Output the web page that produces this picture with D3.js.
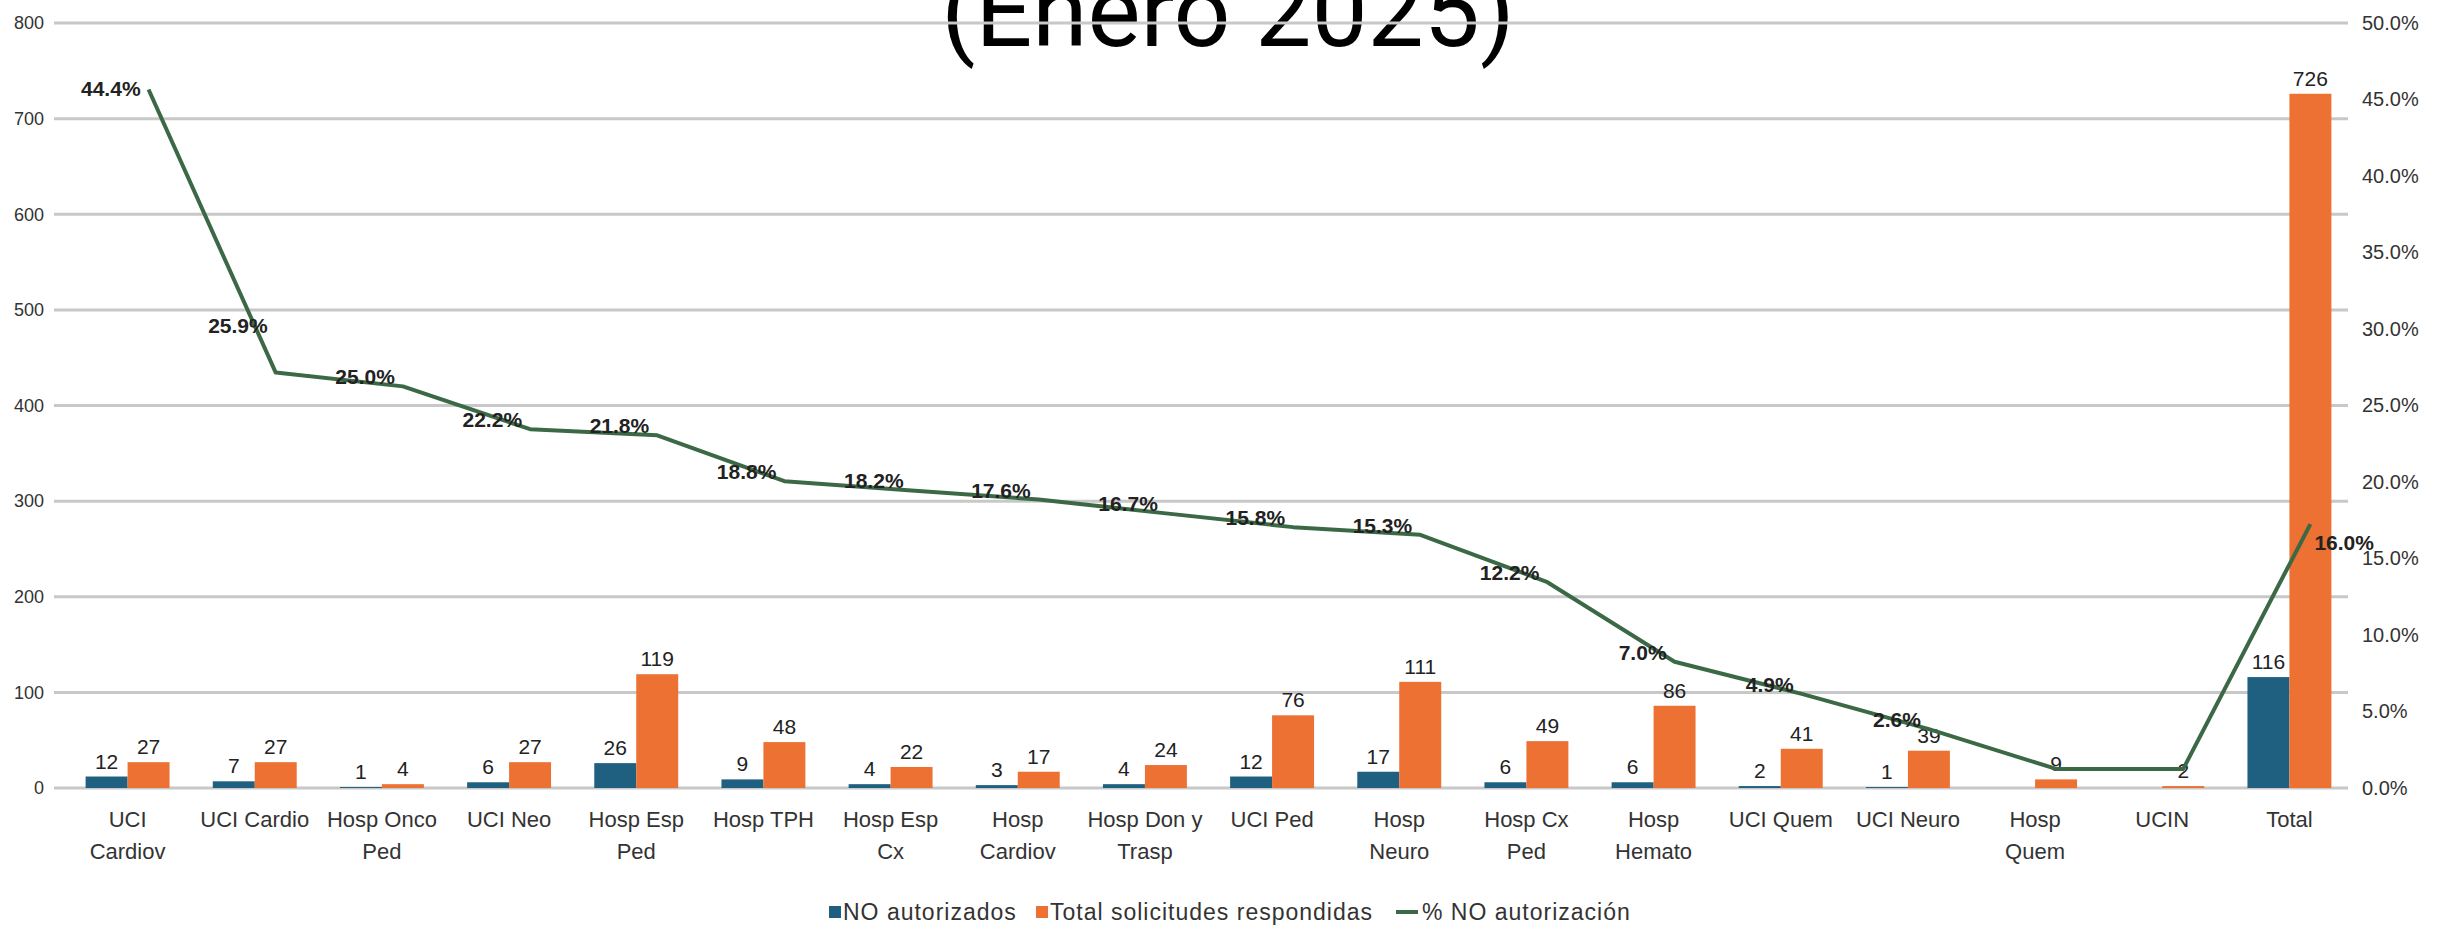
<!DOCTYPE html>
<html>
<head>
<meta charset="utf-8">
<script src="https://cdn.jsdelivr.net/npm/d3@7"></script>
<style>
  html, body { margin: 0; padding: 0; background: #fff; overflow: hidden; }
  svg { display: block; }
</style>
</head>
<body>
<svg id="chart" width="2438" height="927"></svg>
<script>
const categories = ["UCI\nCardiov", "UCI Cardio", "Hosp Onco\nPed", "UCI Neo", "Hosp Esp\nPed", "Hosp TPH",
  "Hosp Esp\nCx", "Hosp\nCardiov", "Hosp Don y\nTrasp", "UCI Ped", "Hosp\nNeuro", "Hosp Cx\nPed",
  "Hosp\nHemato", "UCI Quem", "UCI Neuro", "Hosp\nQuem", "UCIN", "Total"];
const noAutorizados = [12, 7, 1, 6, 26, 9, 4, 3, 4, 12, 17, 6, 6, 2, 1, 0, 0, 116];
const totalRespondidas = [27, 27, 4, 27, 119, 48, 22, 17, 24, 76, 111, 49, 86, 41, 39, 9, 2, 726];
const pctNoAutorizacion = [44.4, 25.9, 25.0, 22.2, 21.8, 18.8, 18.2, 17.6, 16.7, 15.8, 15.3, 12.2, 7.0, 4.9, 2.6, 0.0, 0.0, 16.0];
const pctLabelsShown = [true, true, true, true, true, true, true, true, true, true, true, true, true, true, true, false, false, true];
const leftTicks = [0, 100, 200, 300, 400, 500, 600, 700, 800];
const rightTicks = [0, 5, 10, 15, 20, 25, 30, 35, 40, 45, 50];
const seriesNames = ["NO autorizados", "Total solicitudes respondidas", "% NO autorización"];
const title = "(Enero 2025)";

const colBlue = "#1f5f80", colOrange = "#ec7133", colGreen = "#3c6945", colGrid = "#c8c8c8";
const FONT = "'Liberation Sans', Arial, sans-serif";

const svg = d3.select("#chart");
const plotL = 54, plotR = 2348, yTop = 23, yBot = 788;

const x = d3.scaleBand().domain(d3.range(categories.length)).range([64, 2353]).paddingInner(0.34).paddingOuter(0.17);
const xs = d3.scaleBand().domain([0, 1]).range([0, x.bandwidth()]);
const yBar = d3.scaleLinear().domain([0, 800]).range([yBot, yTop]);
const yPct = d3.scaleLinear().domain([0, 50]).range([yBot, yTop]);
const yLine = d3.scaleLinear().domain([-1.25, 48.75]).range([yBot, yTop]);

// title (partly above the top edge, as in the reference)
svg.append("text").attr("x", 1228).attr("y", 46).attr("text-anchor", "middle")
  .attr("font-family", "Roboto, sans-serif").attr("font-size", 100).attr("fill", "#000")
  .text(title);

// gridlines
svg.append("g").selectAll("line").data(leftTicks).join("line")
  .attr("x1", plotL).attr("x2", plotR)
  .attr("y1", d => yBar(d)).attr("y2", d => yBar(d))
  .attr("stroke", colGrid).attr("stroke-width", 3);

// left axis
const gl = svg.append("g").attr("transform", `translate(46,0)`)
  .call(d3.axisLeft(yBar).tickValues(leftTicks).tickSize(0).tickPadding(2));
gl.select(".domain").remove();
gl.selectAll("text").attr("font-family", FONT).attr("font-size", 18).attr("fill", "#333");

// right axis
const gr = svg.append("g").attr("transform", `translate(2360,0)`)
  .call(d3.axisRight(yPct).tickValues(rightTicks).tickSize(0).tickPadding(2).tickFormat(d => d.toFixed(1) + "%"));
gr.select(".domain").remove();
gr.selectAll("text").attr("font-family", FONT).attr("font-size", 20).attr("fill", "#333");

// bars
const idx = d3.range(categories.length);
const groups = svg.append("g").selectAll("g").data(idx).join("g")
  .attr("transform", i => `translate(${x(i)},0)`);
groups.append("rect").attr("x", xs(0)).attr("width", xs.bandwidth())
  .attr("y", i => yBar(noAutorizados[i])).attr("height", i => yBot - yBar(noAutorizados[i]))
  .attr("fill", colBlue);
groups.append("rect").attr("x", xs(1)).attr("width", xs.bandwidth())
  .attr("y", i => yBar(totalRespondidas[i])).attr("height", i => yBot - yBar(totalRespondidas[i]))
  .attr("fill", colOrange);

// bar labels
groups.filter(i => noAutorizados[i] > 0).append("text")
  .attr("x", xs(0) + xs.bandwidth() / 2).attr("y", i => yBar(noAutorizados[i]) - 8)
  .attr("text-anchor", "middle").attr("font-family", FONT).attr("font-size", 21).attr("fill", "#222")
  .text(i => noAutorizados[i]);
groups.append("text")
  .attr("x", xs(1) + xs.bandwidth() / 2).attr("y", i => yBar(totalRespondidas[i]) - 8)
  .attr("text-anchor", "middle").attr("font-family", FONT).attr("font-size", 21).attr("fill", "#222")
  .text(i => totalRespondidas[i]);

// category labels
groups.append("text").attr("text-anchor", "middle").attr("font-family", FONT).attr("font-size", 22).attr("fill", "#333")
  .attr("x", x.bandwidth() / 2).attr("y", 827)
  .selectAll("tspan").data(i => categories[i].split("\n")).join("tspan")
  .attr("x", x.bandwidth() / 2).attr("dy", (d, j) => j === 0 ? 0 : 32).text(d => d);

// line
const lx = i => x(i) + xs(1) + xs.bandwidth() / 2;
const line = d3.line().x((d, i) => lx(i)).y(d => yLine(d));
svg.append("path").datum(pctNoAutorizacion).attr("d", line)
  .attr("fill", "none").attr("stroke", colGreen).attr("stroke-width", 4).attr("stroke-linejoin", "round");

// line labels
const last = pctNoAutorizacion.length - 1;
svg.append("g").selectAll("text").data(idx.filter(i => pctLabelsShown[i])).join("text")
  .attr("x", i => i === last ? lx(i) + 4 : lx(i) - 8)
  .attr("y", i => i === last ? yLine(pctNoAutorizacion[i]) + 26 : (i === 1 ? yLine(pctNoAutorizacion[i]) - 40 : yLine(pctNoAutorizacion[i]) + (i === 0 ? 6 : -2)))
  .attr("text-anchor", i => i === last ? "start" : "end")
  .attr("font-family", FONT).attr("font-size", 21).attr("font-weight", "bold").attr("fill", "#222")
  .text(i => pctNoAutorizacion[i].toFixed(1) + "%");

// legend
const leg = svg.append("g").attr("font-family", FONT).attr("font-size", 23).attr("letter-spacing", 1).attr("fill", "#333");
const legItems = [
  { x: 829, type: "rect", color: colBlue, name: seriesNames[0] },
  { x: 1036, type: "rect", color: colOrange, name: seriesNames[1] },
  { x: 1396, type: "line", color: colGreen, name: seriesNames[2] }
];
legItems.forEach(it => {
  if (it.type === "rect") {
    leg.append("rect").attr("x", it.x).attr("y", 906).attr("width", 12).attr("height", 12).attr("fill", it.color);
    leg.append("text").attr("x", it.x + 14).attr("y", 920).text(it.name);
  } else {
    leg.append("line").attr("x1", it.x).attr("x2", it.x + 22).attr("y1", 912).attr("y2", 912)
      .attr("stroke", it.color).attr("stroke-width", 4);
    leg.append("text").attr("x", it.x + 26).attr("y", 920).text(it.name);
  }
});
</script>
</body>
</html>
